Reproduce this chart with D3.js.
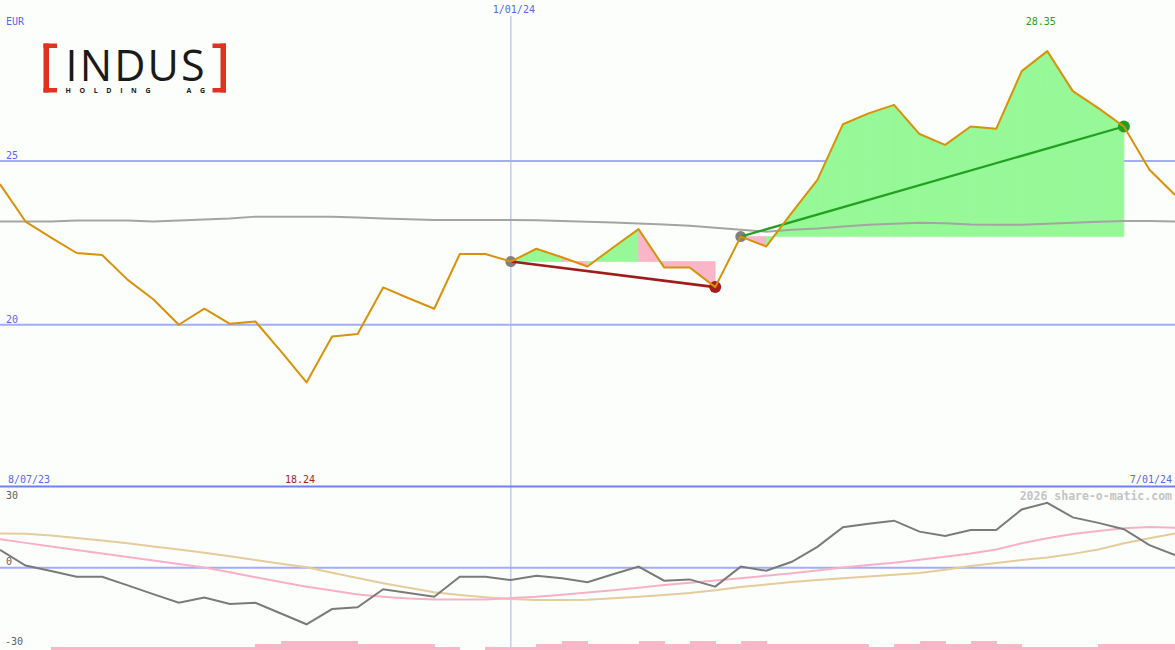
<!DOCTYPE html>
<html><head><meta charset="utf-8">
<script src="https://cdn.jsdelivr.net/npm/d3@7"></script>
<style>html,body{margin:0;padding:0;background:#fcfefc;overflow:hidden}</style>
</head><body><svg id="c" width="1175" height="650"></svg>
<script>
// ---------- data ----------
const dates = ["2023-08-14","2023-08-21","2023-08-28","2023-09-04","2023-09-11","2023-09-18","2023-09-25",
"2023-10-02","2023-10-09","2023-10-16","2023-10-23","2023-10-30","2023-11-06","2023-11-13","2023-11-20","2023-11-27",
"2023-12-04","2023-12-11","2023-12-18","2023-12-25","2024-01-01","2024-01-08","2024-01-15","2024-01-22","2024-01-29",
"2024-02-05","2024-02-12","2024-02-19","2024-02-26","2024-03-04","2024-03-11","2024-03-18","2024-03-25",
"2024-04-01","2024-04-08","2024-04-15","2024-04-22","2024-04-29","2024-05-06","2024-05-13","2024-05-20","2024-05-27",
"2024-06-03","2024-06-10","2024-06-17","2024-06-24","2024-07-01"];
const price = [24.29,23.15,22.66,22.19,22.13,21.37,20.78,20.00,20.49,20.03,20.10,19.19,18.24,19.64,19.72,21.14,
20.81,20.49,22.16,22.16,21.93,22.32,22.06,21.78,22.36,22.92,21.75,21.75,21.15,22.69,22.39,23.42,24.42,26.12,
26.45,26.71,25.82,25.49,26.05,25.98,27.74,28.35,27.13,26.61,26.05,24.73,23.96];
const movingAvg = [23.15,23.15,23.15,23.18,23.18,23.18,23.15,23.18,23.21,23.24,23.30,23.30,23.30,23.30,23.27,23.24,
23.22,23.20,23.20,23.20,23.20,23.19,23.17,23.14,23.12,23.09,23.06,23.02,22.96,22.90,22.84,22.90,22.94,23.00,
23.05,23.08,23.11,23.10,23.06,23.05,23.05,23.08,23.11,23.14,23.17,23.17,23.15];
const oscMomentum = [8.1,1.0,-1.5,-4.1,-4.1,-8.0,-12.0,-15.9,-13.5,-16.5,-15.9,-20.8,-25.7,-18.8,-18.0,-9.8,
-11.5,-13.2,-4.1,-4.1,-5.6,-3.6,-4.8,-6.6,-3.0,0.5,-5.9,-5.3,-8.6,0.5,-1.4,2.7,9.5,18.4,20.0,21.4,16.4,14.4,
17.1,17.1,26.5,29.5,22.9,20.4,17.5,10.3,5.8];
const oscPink = [12.9,11.3,9.7,8.1,6.5,4.9,3.3,1.7,0.1,-2.1,-4.3,-6.5,-8.6,-10.4,-12.2,-13.2,-14.0,-14.4,-14.4,
-14.4,-13.8,-13.2,-12.3,-11.3,-10.2,-9.1,-7.9,-6.8,-5.8,-4.8,-3.6,-2.5,-1.3,0.1,1.2,2.3,3.6,5.0,6.5,8.3,11.1,
13.4,15.3,16.7,18.0,18.5,18.2];
const oscTan = [15.6,15.4,14.7,13.5,12.4,11.1,9.7,8.3,6.8,5.2,3.5,1.8,0.2,-2.3,-4.7,-7.1,-9.1,-11.1,-12.4,-13.4,
-14.2,-14.7,-14.7,-14.6,-13.9,-13.2,-12.4,-11.5,-10.2,-8.8,-7.6,-6.5,-5.6,-4.8,-4.0,-3.2,-2.4,-0.9,0.8,2.2,3.5,
4.6,6.3,8.3,11.1,13.4,15.6];
// weekly volume (thousand shares), one per week interval
const volume = [0,0,10,10,10,10,10,10,10,10,20,30,30,30,20,20,20,10,0,10,10,20,30,20,20,30,20,30,20,30,20,20,
20,20,10,20,30,20,30,20,10,10,10,20,20,20];
const priceTicks = [20, 25];
const oscTicks = [30, 0, -30];
const dateLabels = ["8/07/23", "1/01/24", "7/01/24"];
const midDate = "2024-01-01";
const currency = "EUR";
const trendSegments = [["2024-01-01","2024-02-26"],["2024-03-04","2024-06-17"]];
const copyright = "2026 share-o-matic.com";

// ---------- setup ----------
const W = 1175, H = 650;
const parse = d3.timeParse("%Y-%m-%d");
const pts = dates.map((d,i)=>({date:parse(d), v:price[i], i}));
const svg = d3.select("#c");
svg.append("rect").attr("width",W).attr("height",H).attr("fill","#fcfefc");

const x = d3.scaleTime().domain([pts[0].date, pts[pts.length-1].date]).range([0, W]);
const y = d3.scaleLinear().domain([15.05, 29.91]).range([487, 0]);
const yo = d3.scaleLinear().domain([-37.4, 36.7]).range([650, 487]);
const vh = d3.scaleLinear().domain([0, 30]).range([0, 9]);

const mono = "'DejaVu Sans Mono', monospace";
const blue = "#5468f0";

// price gridlines
svg.selectAll(".pg").data(priceTicks).join("line")
  .attr("x1",0).attr("x2",W).attr("y1",d=>y(d)).attr("y2",d=>y(d))
  .attr("stroke","#a4acf4").attr("stroke-width",2);
svg.selectAll(".pl").data(priceTicks).join("text")
  .attr("x",6).attr("y",d=>y(d)-1.5).text(d=>d)
  .attr("font-family",mono).attr("font-size",10).attr("fill",blue);

// fills between price and the start value of each trend segment
const idx = d => dates.indexOf(d);
const area = d3.area().x(d=>x(d.date)).y1(d=>y(d.v));
trendSegments.forEach(([s,e])=>{
  const a = idx(s), b = idx(e), base = price[a];
  for (let k=a; k<b; k++){
    const col = price[k+1] > base ? "#96f896" : "#f8b6c8";
    svg.append("path")
      .attr("d", area.y0(y(base))([pts[k], pts[k+1]]))
      .attr("fill", col).attr("stroke", col).attr("stroke-width", 0.7);
  }
});

// vertical date line
svg.append("line").attr("x1",x(parse(midDate))).attr("x2",x(parse(midDate)))
  .attr("y1",16).attr("y2",H).attr("stroke","#aab0e4").attr("stroke-width",1);

// moving average
const line = d3.line().x(d=>x(d.date)).y(d=>y(d.v));
svg.append("path").attr("d", line(dates.map((d,i)=>({date:parse(d), v:movingAvg[i]}))))
  .attr("fill","none").attr("stroke","#a4a4a4").attr("stroke-width",2);

// markers (dots)
const dotCols = [["#808080","#a81e1e"],["#808080","#22a022"]];
trendSegments.forEach(([s,e],j)=>{
  const a = pts[idx(s)], b = pts[idx(e)];
  svg.append("circle").attr("cx",x(a.date)).attr("cy",y(a.v)).attr("r",5.5).attr("fill",dotCols[j][0]);
  svg.append("circle").attr("cx",x(b.date)).attr("cy",y(b.v)).attr("r",6).attr("fill",dotCols[j][1]);
});
// trend lines
trendSegments.forEach(([s,e],j)=>{
  const a = pts[idx(s)], b = pts[idx(e)];
  svg.append("path").attr("d", line([a,b])).attr("fill","none")
    .attr("stroke", j===0 ? "#a01c1c" : "#22a022").attr("stroke-width", j===0 ? 2.6 : 2.2);
});

// price line
svg.append("path").attr("d", line(pts)).attr("fill","none")
  .attr("stroke","#d8920a").attr("stroke-width",2).attr("stroke-linejoin","round");

// max / min labels
const iMax = d3.maxIndex(price), iMin = d3.minIndex(price);
svg.append("text").attr("x", x(pts[iMax].date)-6.5).attr("y",25).attr("text-anchor","middle")
  .attr("font-family",mono).attr("font-size",10).attr("fill","#22a022").text(price[iMax].toFixed(2));
svg.append("text").attr("x", x(pts[iMin].date)-6.5).attr("y",483).attr("text-anchor","middle")
  .attr("font-family",mono).attr("font-size",10).attr("fill","#a81e1e").text(price[iMin].toFixed(2));

// currency
svg.append("text").attr("x",6).attr("y",25).text(currency)
  .attr("font-family",mono).attr("font-size",10).attr("fill",blue);

// date labels
svg.append("text").attr("x",x(parse(midDate))+3).attr("y",13).attr("text-anchor","middle")
  .attr("font-family",mono).attr("font-size",10).attr("fill",blue).text(dateLabels[1]);
svg.append("text").attr("x",8).attr("y",483)
  .attr("font-family",mono).attr("font-size",10).attr("fill",blue).text(dateLabels[0]);
svg.append("text").attr("x",1172).attr("y",483).attr("text-anchor","end")
  .attr("font-family",mono).attr("font-size",10).attr("fill",blue).text(dateLabels[2]);

// divider
svg.append("line").attr("x1",0).attr("x2",W).attr("y1",486.5).attr("y2",486.5)
  .attr("stroke","#7080f0").attr("stroke-width",2);

// ---------- lower panel ----------
svg.append("line").attr("x1",0).attr("x2",W).attr("y1",yo(0)).attr("y2",yo(0))
  .attr("stroke","#a4acf4").attr("stroke-width",2);
svg.selectAll(".ol").data(oscTicks).join("text")
  .attr("x",d=>d<0?5:6).attr("y",d=>d<0? yo(d)+11.3 : yo(d)-2.5).text(d=>d)
  .attr("font-family",mono).attr("font-size",10).attr("fill","#606060");

svg.append("text").attr("x",1172).attr("y",500).attr("text-anchor","end")
  .attr("font-family",mono).attr("font-size",11.5).attr("font-weight","bold")
  .attr("fill","#c4c4c4").text(copyright);

// volume bars
svg.selectAll(".vb").data(volume).join("rect")
  .attr("x",(d,i)=>x(pts[i].date)).attr("width",(d,i)=>x(pts[i+1].date)-x(pts[i].date)+0.5)
  .attr("y",d=>H-vh(d)).attr("height",d=>vh(d)).attr("fill","#f8b6c8")
  .attr("shape-rendering","crispEdges");

const oline = d3.line().x(d=>x(d.date)).y(d=>yo(d.v));
[[oscTan,"#e4cc9c"],[oscPink,"#f8b0c8"],[oscMomentum,"#7a7a7a"]].forEach(([arr,col])=>{
  svg.append("path").attr("d", oline(arr.map((v,i)=>({date:pts[i].date, v}))))
    .attr("fill","none").attr("stroke",col).attr("stroke-width",2);
});

// ---------- logo ----------
const logo = svg.append("g");
const red = "#e0321e";
// left bracket
logo.append("rect").attr("x",43.5).attr("y",43.5).attr("width",5.5).attr("height",49).attr("fill",red);
logo.append("rect").attr("x",43.5).attr("y",43.5).attr("width",13.5).attr("height",4.5).attr("fill",red);
logo.append("rect").attr("x",43.5).attr("y",88).attr("width",13.5).attr("height",4.5).attr("fill",red);
// right bracket
logo.append("rect").attr("x",220.5).attr("y",43.5).attr("width",5.5).attr("height",49).attr("fill",red);
logo.append("rect").attr("x",212.5).attr("y",43.5).attr("width",13.5).attr("height",4.5).attr("fill",red);
logo.append("rect").attr("x",212.5).attr("y",88).attr("width",13.5).attr("height",4.5).attr("fill",red);
const lt = logo.append("text").attr("font-family","'Open Sans', sans-serif").attr("fill","#1a1a1a");
lt.append("tspan").attr("x",65.5).attr("y",80.5).attr("font-size",43)
  .attr("textLength",139).attr("lengthAdjust","spacing").text("INDUS");
lt.append("tspan").attr("x",65.5).attr("y",92.5).attr("font-size",7).attr("font-weight","bold")
  .attr("textLength",85).attr("lengthAdjust","spacing").text("HOLDING");
lt.append("tspan").attr("x",186.5).attr("y",92.5).attr("font-size",7).attr("font-weight","bold")
  .attr("textLength",18.5).attr("lengthAdjust","spacing").text(" AG".trim());
</script></body></html>
